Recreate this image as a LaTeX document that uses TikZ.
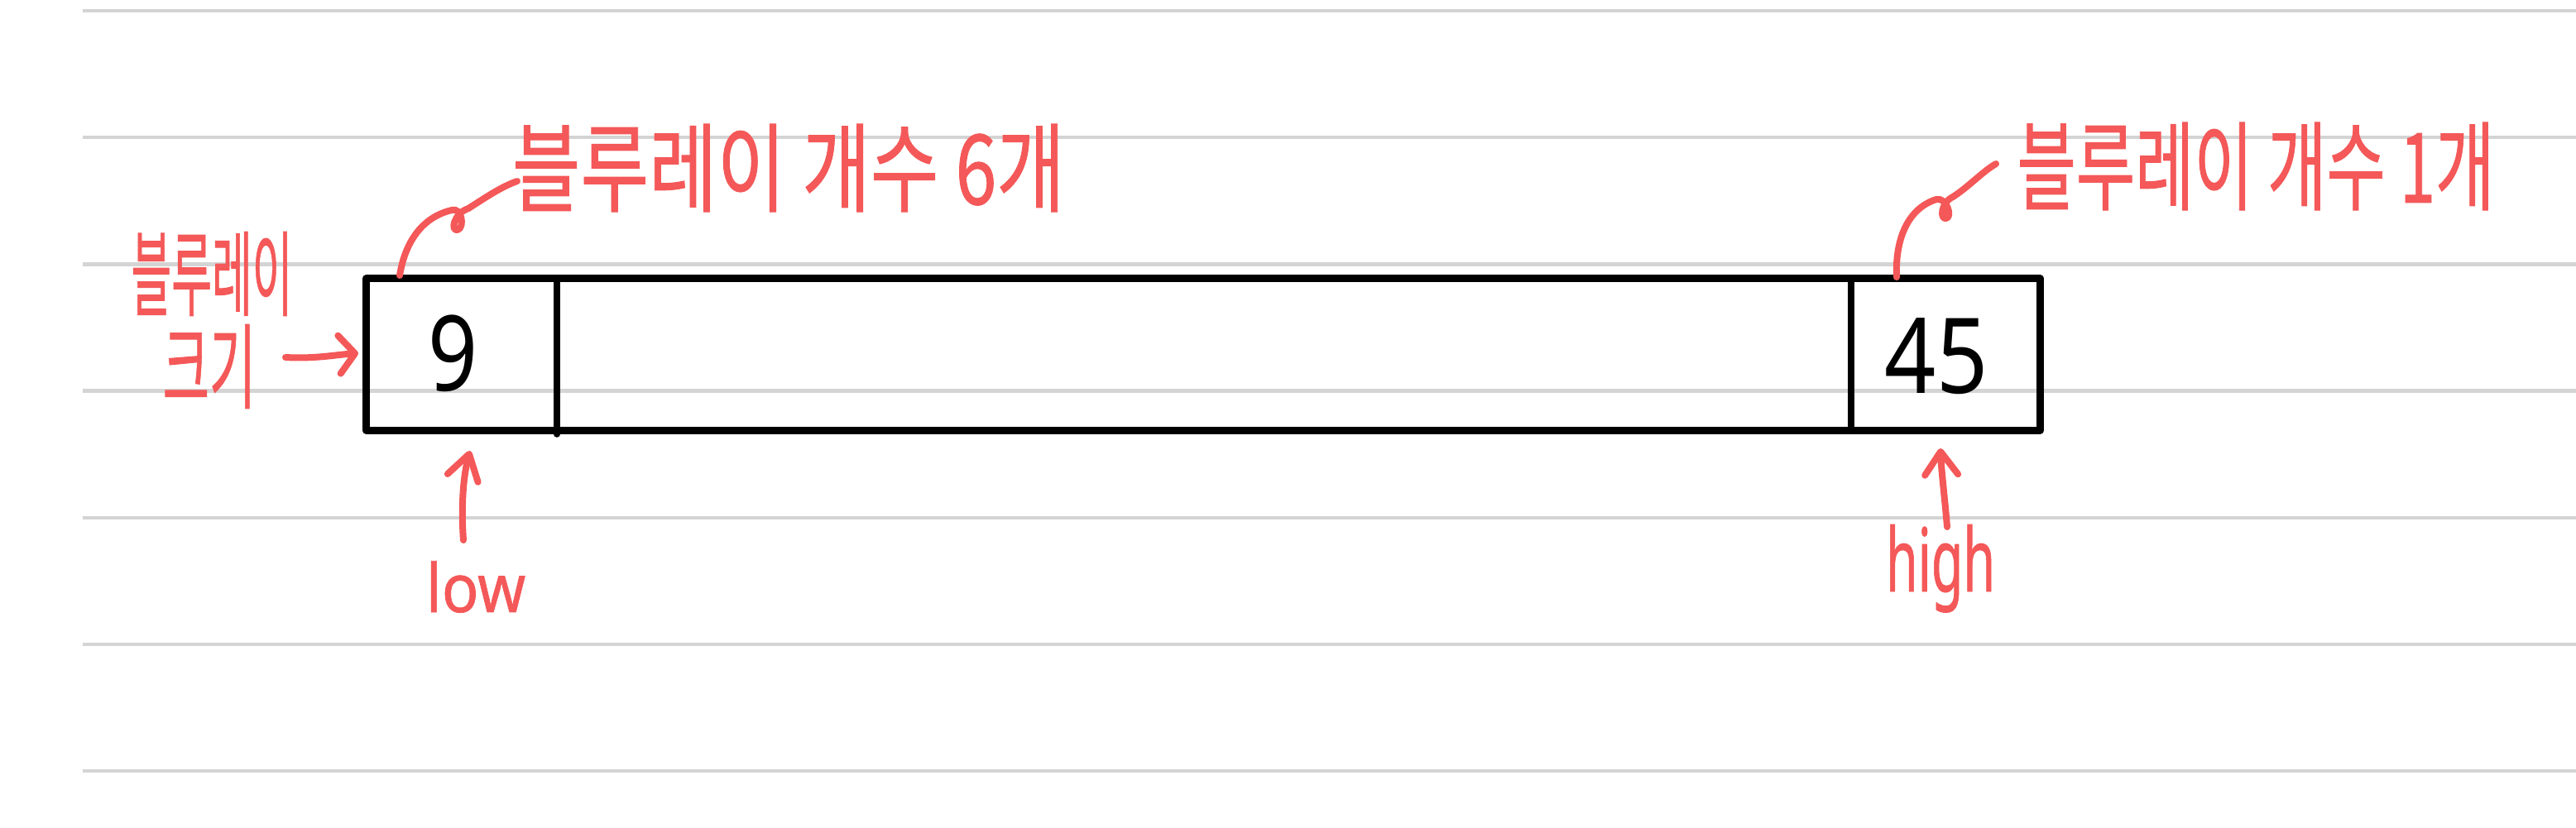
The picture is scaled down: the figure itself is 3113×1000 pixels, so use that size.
\documentclass[tikz,border=0pt]{standalone}
\usepackage{fontspec}
\setmainfont{Noto Sans}
\newfontfamily\kr[FakeBold=0.9]{Noto Sans CJK KR}
\newfontfamily\lat[FakeBold=0.9]{Noto Sans}
\usetikzlibrary{arrows.meta}
\definecolor{ink}{RGB}{244,88,88}
\definecolor{ruleclr}{RGB}{212,212,212}
\tikzset{
  inkline/.style={draw=ink, line width=0.08cm, line cap=round, line join=round},
  lbl/.style={text=ink, font=\kr\fontsize{29pt}{30pt}\selectfont, inner sep=0pt},
  latlbl/.style={text=ink, inner sep=0pt},
  digit/.style={text=black, font=\fontsize{36pt}{38pt}\selectfont, inner sep=0pt},
  ruleline/.style={draw=ruleclr, line width=0.045cm},
  boxline/.style={draw=black, line width=0.09cm, line join=round},
  divline/.style={draw=black, line width=0.075cm, line cap=round}
}
\begin{document}
\begin{tikzpicture}[x=0.01cm,y=-0.01cm]
\useasboundingbox (0,0) rectangle (3113,1000);
\fill[white] (0,0) rectangle (3113,1000);
% ruled paper
\foreach \k in {0,...,6} {
  \draw[ruleline] (100,{13+153.2*\k}) -- (3113,{13+153.2*\k});
}
% bar
\node[boxline, minimum width=20.22cm, minimum height=1.83cm, inner sep=0pt] (bar) at (1454,428.5) {};
\coordinate (d1t) at (673,337); \coordinate (d1b) at (673,525);
\coordinate (d2t) at (2237,337); \coordinate (d2b) at (2237,520);
\draw[divline] (d1t) -- (d1b);
\draw[divline] (d2t) -- (d2b);
% values
\node[digit] (nine) at (548,427) {\scalebox{0.83}[1]{9}};
\node[digit] (ff) at (2340,431) {\scalebox{0.86}[1]{45}};
% labels
\node[lbl] (t6) at (953,203) {\scalebox{0.88}[1.15]{블루레이 개수 6개}};
\node[lbl] (t1) at (2726,201) {\scalebox{0.76}[1.15]{블루레이 개수 1개}};
\node[lbl] (tb) at (256,331) {\scalebox{0.52}[1.1]{블루레이}};
\node[lbl] (tk) at (253,443) {\scalebox{0.6}[1.1]{크기}};
\node[latlbl, font=\lat\fontsize{21pt}{22pt}\selectfont, anchor=base] (low) at (575,740) {\scalebox{1}[1.1]{low}};
\node[latlbl, font=\lat\fontsize{27pt}{28pt}\selectfont, anchor=base] (high) at (2345,715) {\scalebox{0.66}[1.12]{high}};
% connectors to count labels
\coordinate (c6s) at (483,333); \coordinate (c6e) at (625,219);
\draw[inkline] (c6s) .. controls (490,290) and (512,262) .. (546,254)
  .. controls (558,250) and (562,275) .. (553,278)
  .. controls (544,280) and (548,258) .. (566,252)
  .. controls (585,240) and (605,226) .. (c6e);
\coordinate (c1s) at (2292,335); \coordinate (c1e) at (2412,198);
\draw[inkline] (c1s) .. controls (2290,290) and (2305,252) .. (2340,241)
  .. controls (2352,238) and (2360,262) .. (2352,264)
  .. controls (2344,266) and (2345,245) .. (2360,238)
  .. controls (2380,225) and (2395,208) .. (c1e);
% arrows
\coordinate (ka) at (345,432); \coordinate (kt) at (433,427);
\draw[inkline, -{Straight Barb[length=0.19cm,width=0.46cm,round]}] (ka) .. controls (380,434) and (405,429) .. (kt);
\coordinate (la) at (560,653); \coordinate (lt) at (568,545);
\draw[inkline, -{Straight Barb[length=0.3cm,width=0.38cm,round]}] (la) .. controls (557,610) and (560,575) .. (lt);
\coordinate (ha) at (2353,637); \coordinate (ht) at (2345,542);
\draw[inkline, -{Straight Barb[length=0.28cm,width=0.40cm,round]}] (ha) .. controls (2350,600) and (2346,570) .. (ht);
\end{tikzpicture}
\end{document}
